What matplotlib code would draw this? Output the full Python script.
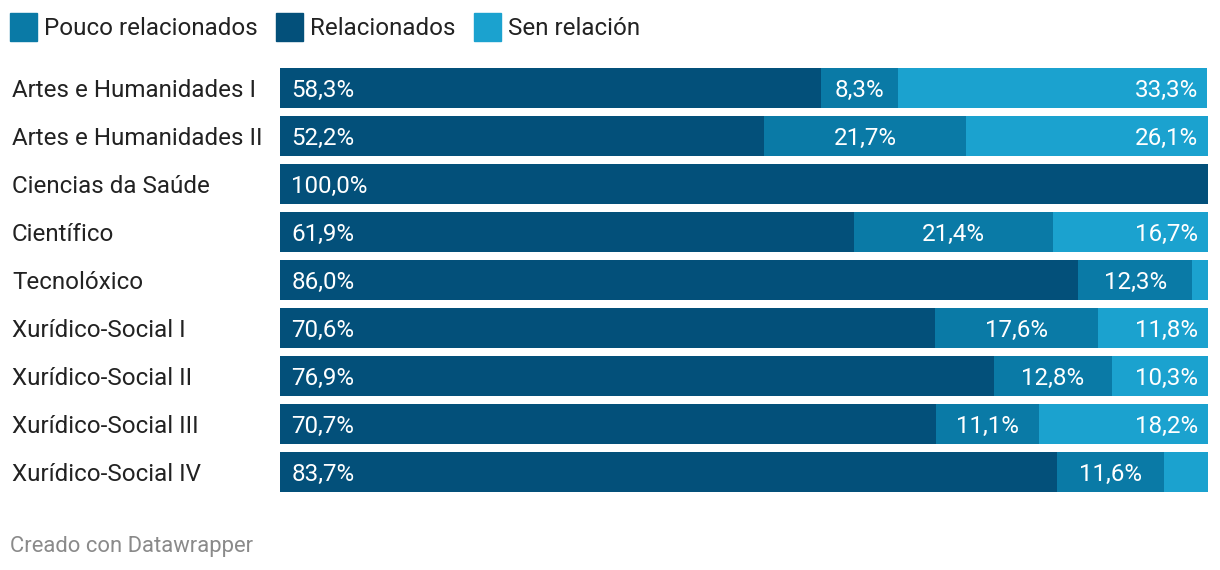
import matplotlib.pyplot as plt
from matplotlib import transforms

# Data
categories = ['Artes e Humanidades I', 'Artes e Humanidades II', 'Ciencias da Saúde',
              'Científico', 'Tecnolóxico', 'Xurídico-Social I', 'Xurídico-Social II',
              'Xurídico-Social III', 'Xurídico-Social IV']
relacionados = [58.3, 52.2, 100.0, 61.9, 86.0, 70.6, 76.9, 70.7, 83.7]
pouco = [8.3, 21.7, 0.0, 21.4, 12.3, 17.6, 12.8, 11.1, 11.6]
sen_relacion = [33.3, 26.1, 0.0, 16.7, 1.7, 11.8, 10.3, 18.2, 4.7]

c_rel = '#03507a'
c_pouco = '#0a7aa6'
c_sen = '#1ba2cf'

plt.rcParams['font.family'] = ['Roboto', 'DejaVu Sans']

W, H = 1220, 570
fig = plt.figure(figsize=(W / 100, H / 100), dpi=100)
ax = fig.add_axes([280 / W, 1 - 496 / H, 928 / W, 432 / H])

y = list(range(len(categories)))
left2 = relacionados
left3 = [a + b for a, b in zip(relacionados, pouco)]
ax.barh(y, relacionados, height=40 / 48, color=c_rel)
ax.barh(y, pouco, left=left2, height=40 / 48, color=c_pouco)
ax.barh(y, sen_relacion, left=left3, height=40 / 48, color=c_sen)

ax.set_xlim(0, 100)
ax.set_ylim(len(categories) - 0.5, -0.5)
ax.axis('off')

def fmt(v):
    return f'{v:.1f}%'.replace('.', ',')

fs = 17.4
dy = 0.05
for i in y:
    ax.text(1.2, i + dy, fmt(relacionados[i]), color='white', fontsize=fs, va='center', ha='left')
    if pouco[i] >= 5:
        ax.text(left2[i] + pouco[i] / 2, i + dy, fmt(pouco[i]), color='white', fontsize=fs,
                va='center', ha='center')
    if sen_relacion[i] >= 5:
        ax.text(98.9, i + dy, fmt(sen_relacion[i]), color='white', fontsize=fs,
                va='center', ha='right')

# Category labels
tr = transforms.blended_transform_factory(fig.transFigure, ax.transData)
for i, cat in enumerate(categories):
    ax.text(12 / W, i + dy, cat, transform=tr, fontsize=fs, color='#222222',
            va='center', ha='left')

# Legend
legend_items = [('Pouco relacionados', c_pouco, 10), ('Relacionados', c_rel, 276),
                ('Sen relación', c_sen, 474)]
for label, col, x0 in legend_items:
    fig.patches.append(plt.Rectangle((x0 / W, 1 - 41 / H), 27 / W, 28 / H,
                                     transform=fig.transFigure, color=col))
    fig.text((x0 + 34) / W, 1 - 28.5 / H, label, fontsize=fs, color='#222222',
             va='center', ha='left')

fig.text(10 / W, 1 - 546.5 / H, 'Creado con Datawrapper', fontsize=15.8, color='#8a8a8a',
         va='center', ha='left')

fig.savefig('out.png', dpi=100)
